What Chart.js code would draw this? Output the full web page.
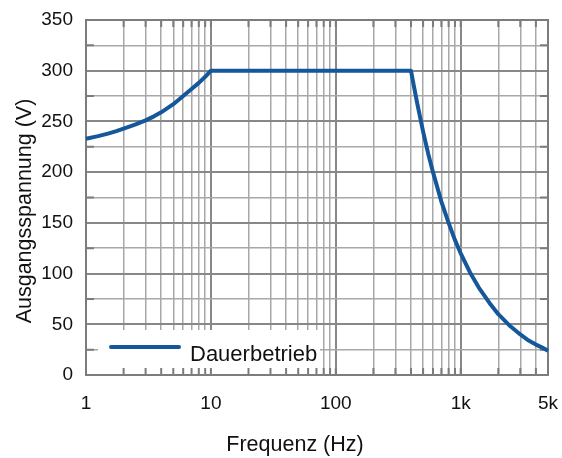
<!DOCTYPE html>
<html>
<head>
<meta charset="utf-8">
<script src="https://cdn.jsdelivr.net/npm/chart.js@4.4.1/dist/chart.umd.min.js"></script>
<style>
  html, body { margin: 0; padding: 0; background: #ffffff; }
  #wrap { width: 562px; height: 458px; }
</style>
</head>
<body>
<div id="wrap"><canvas id="c" width="562" height="458"></canvas></div>
<script>
// ---- data ----
const frequencies = [1, 1.25, 1.5, 1.75, 2, 2.5, 3, 3.5, 4, 5, 6, 7, 8, 9, 10, 400, 420, 450, 500, 550, 600, 700, 800, 900, 1000, 1200, 1400, 1700, 2000, 2500, 3000, 3500, 4000, 4500, 5000];
const voltages    = [233, 235.5, 238, 240.5, 243, 247, 251, 255, 259, 267, 275, 282, 288, 294, 300, 300, 286, 267, 240, 218, 200, 171, 150, 133, 120, 100, 86, 71, 60, 48, 40, 34, 30, 27, 24];
const seriesName = 'Dauerbetrieb';
const xTickValues = [1,2,3,4,5,6,7,8,9,10,20,30,40,50,60,70,80,90,100,200,300,400,500,600,700,800,900,1000,2000,3000,4000,5000];
const xTickLabels = {1: '1', 10: '10', 100: '100', 1000: '1k', 5000: '5k'};
const yTickValues = [0,25,50,75,100,125,150,175,200,225,250,275,300,325,350];
const yLabelStep = 50;
const xTitle = 'Frequenz (Hz)';
const yTitle = 'Ausgangsspannung (V)';

const FONT = "'Liberation Sans', Arial, sans-serif";
const LINE_COLOR = '#14579b';
const isMajorX = v => [1,10,100,1000].includes(v);

const zeroPad = s => { s.paddingLeft = 0; s.paddingRight = 0; s.paddingTop = 0; s.paddingBottom = 0; };

const framePlugin = {
  id: 'frame',
  beforeDatasetsDraw(chart) {
    const {ctx, chartArea: a, scales} = chart;
    ctx.save();
    // legend background box
    ctx.fillStyle = '#ffffff';
    ctx.fillRect(a.left + 12, a.bottom - 45, 222, 45);
    // inner tick marks
    ctx.strokeStyle = '#7c7c7c';
    ctx.lineWidth = 2;
    ctx.beginPath();
    xTickValues.forEach(v => {
      const x = scales.x.getPixelForValue(v);
      if (x <= a.left + 1 || x >= a.right - 1) return;
      ctx.moveTo(x, a.bottom); ctx.lineTo(x, a.bottom - 7);
      ctx.moveTo(x, a.top); ctx.lineTo(x, a.top + 7);
    });
    yTickValues.forEach(v => {
      if (v % yLabelStep === 0) return;
      const y = scales.y.getPixelForValue(v);
      ctx.moveTo(a.left, y); ctx.lineTo(a.left + 8, y);
      ctx.moveTo(a.right, y); ctx.lineTo(a.right - 8, y);
    });
    ctx.stroke();
    // frame
    ctx.strokeStyle = '#7c7c7c';
    ctx.lineWidth = 2;
    ctx.strokeRect(a.left, a.top, a.right - a.left, a.bottom - a.top);
    ctx.restore();
  },
  afterDatasetsDraw(chart) {
    const {ctx, chartArea: a} = chart;
    const ds = chart.data.datasets[0];
    ctx.save();
    // legend
    ctx.strokeStyle = ds.borderColor;
    ctx.lineWidth = 4;
    ctx.lineCap = 'round';
    ctx.beginPath();
    ctx.moveTo(a.left + 25, a.bottom - 28);
    ctx.lineTo(a.left + 93, a.bottom - 28);
    ctx.stroke();
    ctx.fillStyle = '#111111';
    ctx.font = '22px ' + FONT;
    ctx.textBaseline = 'alphabetic';
    ctx.textAlign = 'left';
    ctx.fillText(ds.label, a.left + 104, a.bottom - 14);
    // axis titles
    ctx.font = '21.5px ' + FONT;
    ctx.textAlign = 'center';
    ctx.fillText(xTitle, a.left + 209, a.bottom + 76);
    ctx.translate(a.left - 55.5, a.top + 191);
    ctx.rotate(-Math.PI / 2);
    ctx.fillText(yTitle, 0, 0);
    ctx.restore();
  }
};

new Chart(document.getElementById('c'), {
  type: 'line',
  data: {
    datasets: [{
      label: seriesName,
      data: frequencies.map((f, i) => ({x: f, y: voltages[i]})),
      borderColor: LINE_COLOR,
      backgroundColor: LINE_COLOR,
      borderWidth: 4,
      pointRadius: 0,
      tension: 0,
      borderJoinStyle: 'round',
      fill: false,
      clip: 4
    }]
  },
  options: {
    responsive: false,
    animation: false,
    devicePixelRatio: 1,
    layout: { padding: { left: 0, top: 20, right: 14, bottom: 0 } },
    plugins: {
      legend: { display: false },
      tooltip: { enabled: false }
    },
    scales: {
      x: {
        type: 'logarithmic',
        min: 1,
        max: 5000,
        afterBuildTicks: s => { s.ticks = xTickValues.map(v => ({value: v})); },
        afterFit: s => { s.height = 83; zeroPad(s); },
        border: { display: false },
        grid: {
          drawTicks: false,
          color: c => isMajorX(c.tick && c.tick.value) ? '#888888' : '#a8a8a8',
          lineWidth: c => isMajorX(c.tick && c.tick.value) ? 2 : 1.5
        },
        ticks: {
          autoSkip: false,
          maxRotation: 0,
          padding: 17.5,
          color: '#111111',
          font: { family: FONT, size: 19 },
          callback: v => xTickLabels[v] !== undefined ? xTickLabels[v] : ''
        },
        title: { display: false }
      },
      y: {
        min: 0,
        max: 350,
        afterBuildTicks: s => { s.ticks = yTickValues.map(v => ({value: v})); },
        afterFit: s => { s.width = 86; zeroPad(s); },
        border: { display: false },
        grid: {
          drawTicks: false,
          color: c => (c.tick && c.tick.value % yLabelStep === 0) ? '#888888' : '#a8a8a8',
          lineWidth: c => (c.tick && c.tick.value % yLabelStep === 0) ? 2 : 1.5
        },
        ticks: {
          autoSkip: false,
          padding: 13,
          color: '#111111',
          font: { family: FONT, size: 19 },
          callback: v => v % yLabelStep === 0 ? String(v) : ''
        },
        title: { display: false }
      }
    }
  },
  plugins: [framePlugin]
});
</script>
</body>
</html>
